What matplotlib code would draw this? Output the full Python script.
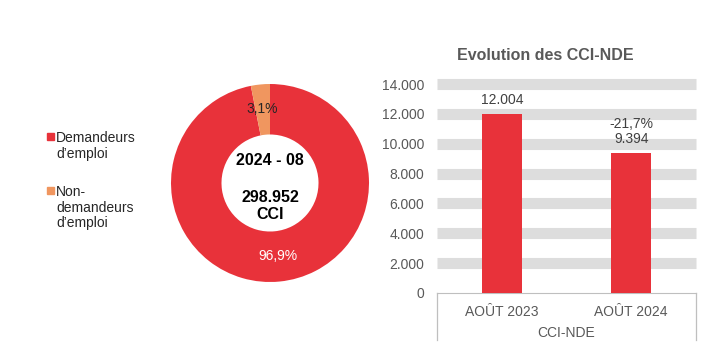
import matplotlib.pyplot as plt
from matplotlib.lines import Line2D

plt.rcParams['font.family'] = ['Liberation Sans', 'DejaVu Sans']

# donut data
donut_labels = ['Demandeurs\nd\u2019emploi', 'Non-\ndemandeurs\nd\u2019emploi']
donut_shares = [96.9, 3.1]
donut_colors = ['#E8323A', '#F0965F']
period = '2024 - 08'
total_cci = 298952

# bar data
bar_cats = ['AOÛT 2023', 'AOÛT 2024']
bar_values = [12004, 9394]
evolution = ['', '-21,7%']
yticks = [0, 2000, 4000, 6000, 8000, 10000, 12000, 14000]

red = '#E8323A'
grey_txt = '#595959'
W, H = 722, 361


def fmt(v):
    return f'{v:,.0f}'.replace(',', '.')


fig = plt.figure(figsize=(W / 100, H / 100), dpi=100)

# ---- donut ----
cx, cy, r = 270, 183, 99
axd = fig.add_axes([(cx - r) / W, (H - cy - r) / H, 2 * r / W, 2 * r / H])
wedges, _ = axd.pie(donut_shares, colors=donut_colors, startangle=90, counterclock=False,
                    radius=1.0, wedgeprops=dict(width=0.51, edgecolor='none'))
axd.set_xlim(-1, 1)
axd.set_ylim(-1, 1)
axd.set_aspect('equal')
axd.axis('off')
axd.text(-0.08, 0.75, f'{donut_shares[1]:.1f}%'.replace('.', ','), ha='center', va='center',
         fontsize=10, color='#262626')
axd.text(0.08, -0.74, f'{donut_shares[0]:.1f}%'.replace('.', ','), ha='center', va='center',
         fontsize=10, color='white')
axd.text(0, 0.23, period, ha='center', va='center', fontsize=11.5, fontweight='bold')
axd.text(0, -0.23, fmt(total_cci) + '\nCCI', ha='center', va='center', fontsize=11.5,
         fontweight='bold', linespacing=1.2)

# legend
sq_y = [136, 190]
for lab, col, sy in zip(donut_labels, donut_colors, sq_y):
    fig.patches.append(plt.Rectangle((47 / W, 1 - (sy + 3.5) / H), 7 / W, 7 / H,
                                     transform=fig.transFigure, color=col))
    fig.text(56 / W, 1 - (sy - 5) / H, lab, ha='left', va='top', fontsize=10,
             color='#262626', linespacing=1.15)

# ---- bars ----
x0, x1, y0, y1 = 437, 696, 293, 84
axb = fig.add_axes([x0 / W, (H - y0) / H, (x1 - x0) / W, (y0 - y1) / H])
xs = range(len(bar_cats))
axb.bar(xs, bar_values, width=0.31, color=red, zorder=3)
axb.set_xlim(-0.5, 1.5)
axb.set_ylim(0, yticks[-1])
for y in yticks[1:]:
    axb.axhline(y, color='#DDDDDD', lw=8, zorder=0, clip_on=False, solid_capstyle='butt')
axb.set_yticks(yticks)
axb.set_yticklabels([fmt(v) for v in yticks])
axb.set_xticks(list(xs))
axb.set_xticklabels(bar_cats)
axb.tick_params(axis='both', length=0, labelsize=10, labelcolor=grey_txt)
axb.tick_params(axis='y', pad=9)
axb.tick_params(axis='x', pad=9)
for s in ['top', 'right', 'left']:
    axb.spines[s].set_visible(False)
axb.spines['bottom'].set_color('#BFBFBF')
for xa in (0, 1):
    axb.add_line(Line2D([xa, xa], [0, -47 / (y0 - y1)], transform=axb.transAxes,
                        color='#BFBFBF', lw=0.9, clip_on=False))
axb.text(0.5, -40 / (y0 - y1), 'CCI-NDE', transform=axb.transAxes, ha='center',
         va='center', fontsize=10, color=grey_txt)
for x, v, ev in zip(xs, bar_values, evolution):
    lab = fmt(v) if not ev else ev + '\n' + fmt(v)
    axb.annotate(lab, (x, v), xytext=(0, 5), textcoords='offset points', ha='center',
                 va='bottom', fontsize=10, color='#404040', linespacing=1.1)

fig.text(545 / W, 1 - 55 / H, 'Evolution des CCI-NDE', ha='center', va='center',
         fontsize=11.5, fontweight='bold', color=grey_txt)

fig.savefig('out.png', dpi=100)
